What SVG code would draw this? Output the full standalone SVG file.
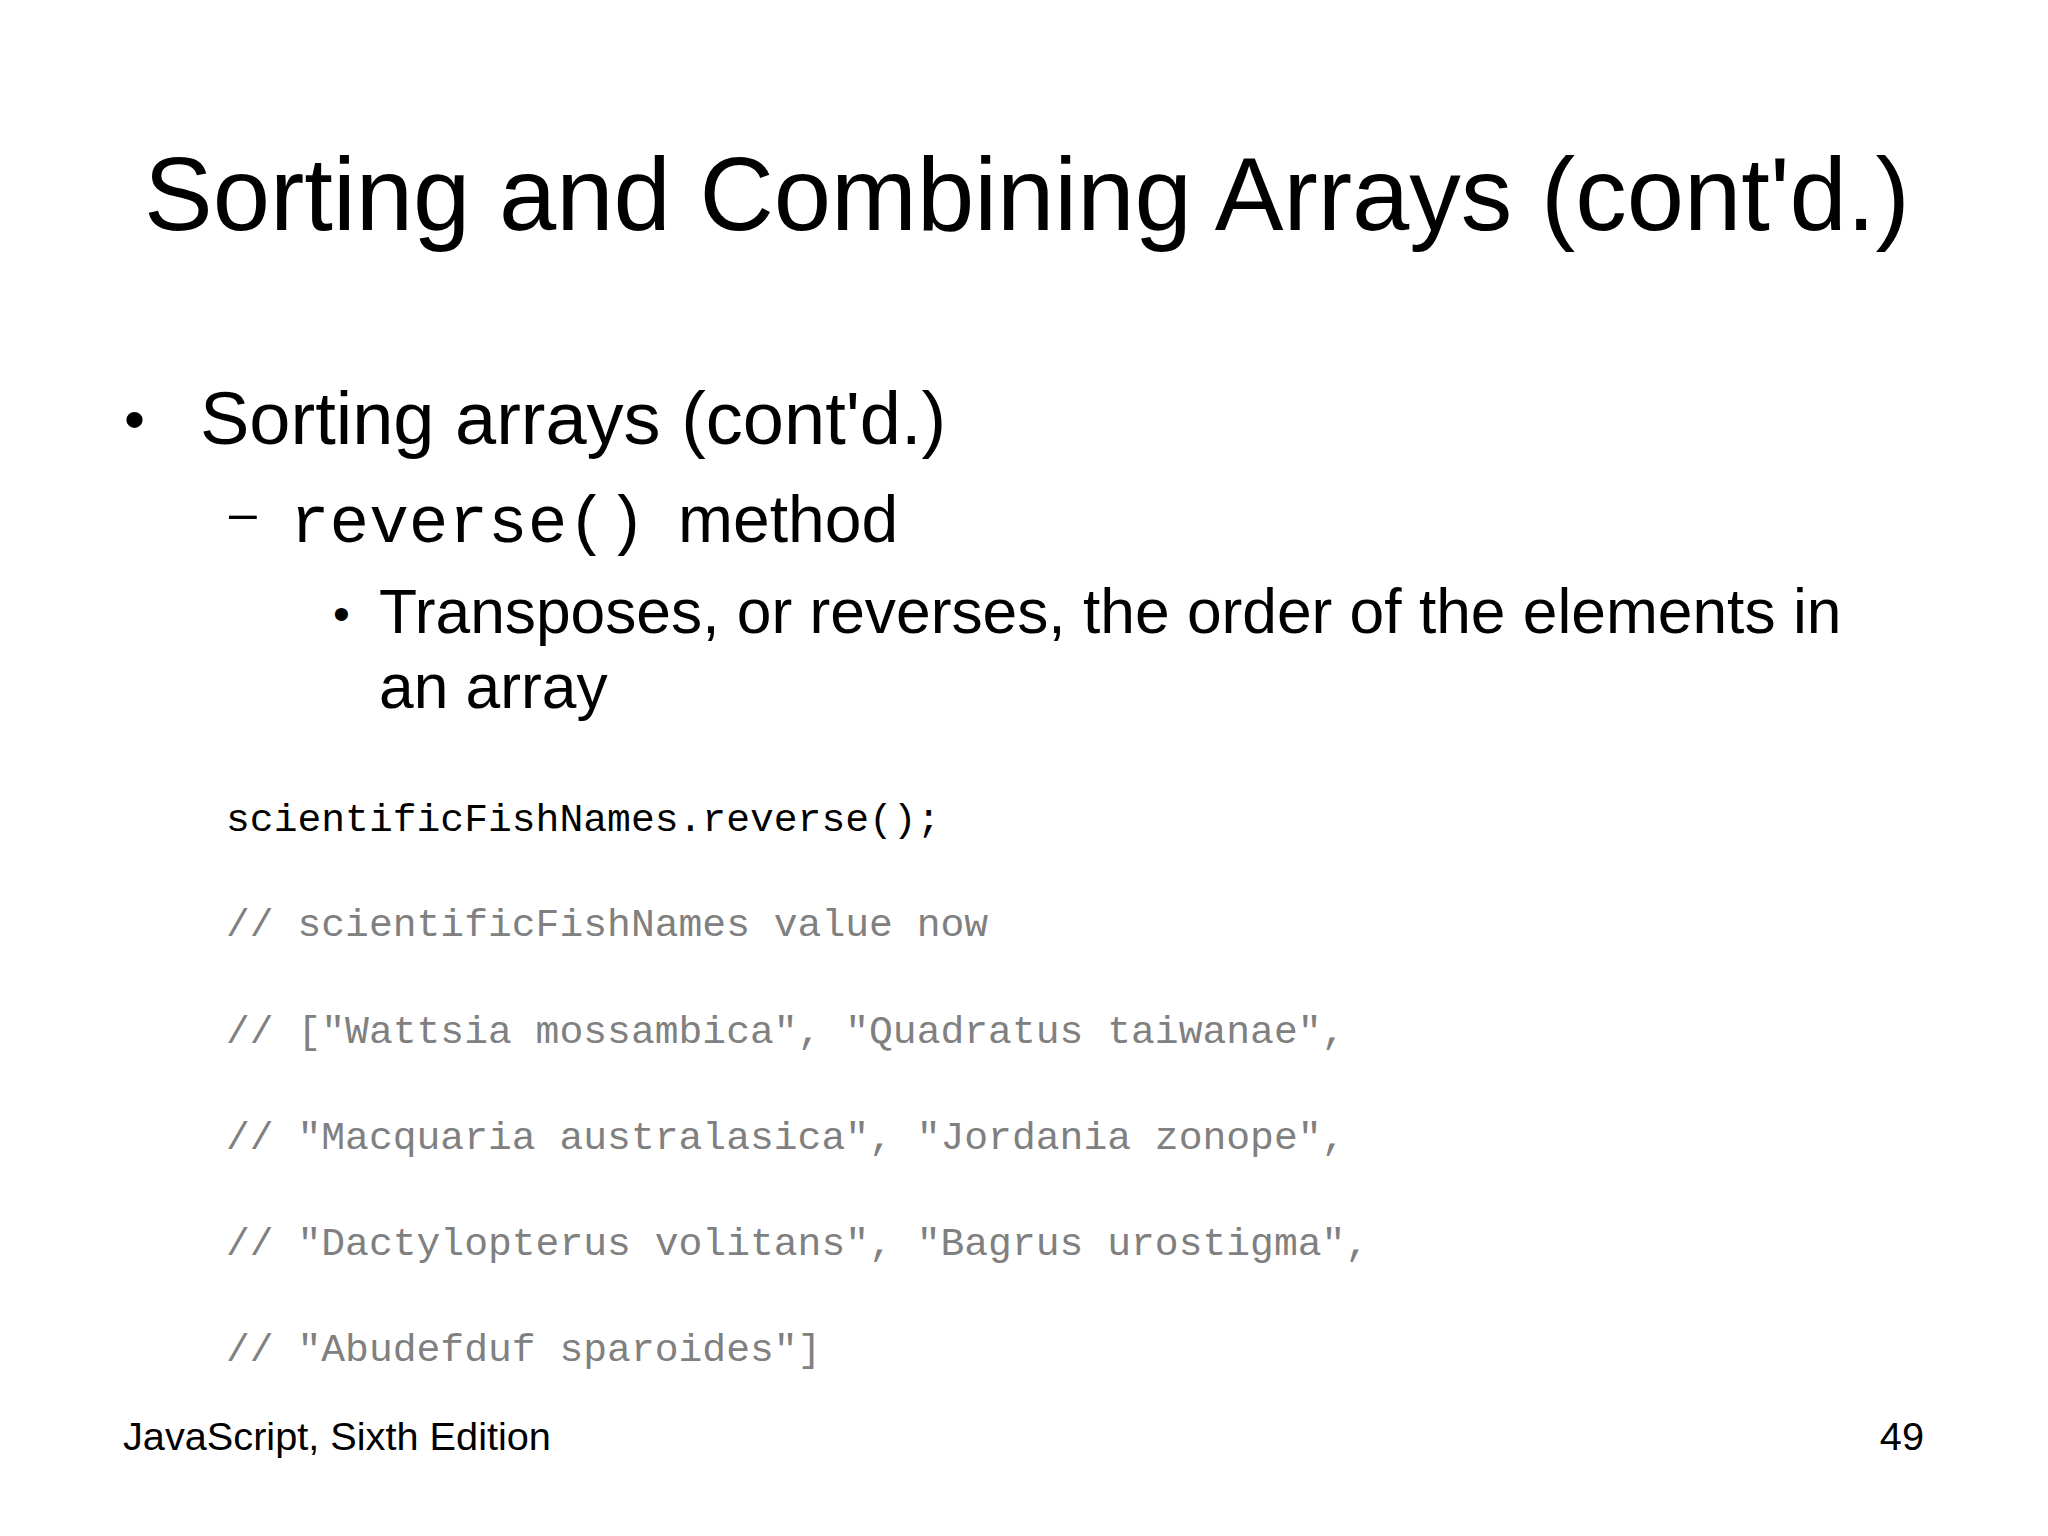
<svg xmlns="http://www.w3.org/2000/svg" width="2048" height="1536" viewBox="0 0 2048 1536">
<style>
.s{font-family:"Liberation Sans",Arial,sans-serif;fill:#000}
.m{font-family:"Liberation Mono","Courier New",monospace}
.c{font-family:"Liberation Mono","Courier New",monospace;font-size:39.7px;fill:#808080}
</style>
<rect width="2048" height="1536" fill="#fff"/>
<text class="s" x="144" y="230" font-size="103">Sorting and Combining Arrays (cont'd.)</text>
<text class="s" x="124" y="440" font-size="60">•</text>
<text class="s" x="200" y="444" font-size="74">Sorting arrays (cont'd.)</text>
<text class="s" x="229" y="530" font-size="50">–</text>
<text class="m" x="290" y="542" font-size="66">reverse()</text>
<text class="s" x="678" y="542" font-size="66">method</text>
<text class="s" x="333" y="630" font-size="48">•</text>
<text class="s" x="379" y="633" font-size="62.3">Transposes, or reverses, the order of the elements in</text>
<text class="s" x="379" y="708" font-size="62.3">an array</text>
<text class="c" x="226" y="831" style="fill:#000">scientificFishNames.reverse();</text>
<text class="c" x="226" y="936">// scientificFishNames value now</text>
<text class="c" x="226" y="1043">// ["Wattsia mossambica", "Quadratus taiwanae",</text>
<text class="c" x="226" y="1149">// "Macquaria australasica", "Jordania zonope",</text>
<text class="c" x="226" y="1255">// "Dactylopterus volitans", "Bagrus urostigma",</text>
<text class="c" x="226" y="1361">// "Abudefduf sparoides"]</text>
<text class="s" x="123" y="1450" font-size="39.7">JavaScript, Sixth Edition</text>
<text class="s" x="1924" y="1450" font-size="39.7" text-anchor="end">49</text>
</svg>
